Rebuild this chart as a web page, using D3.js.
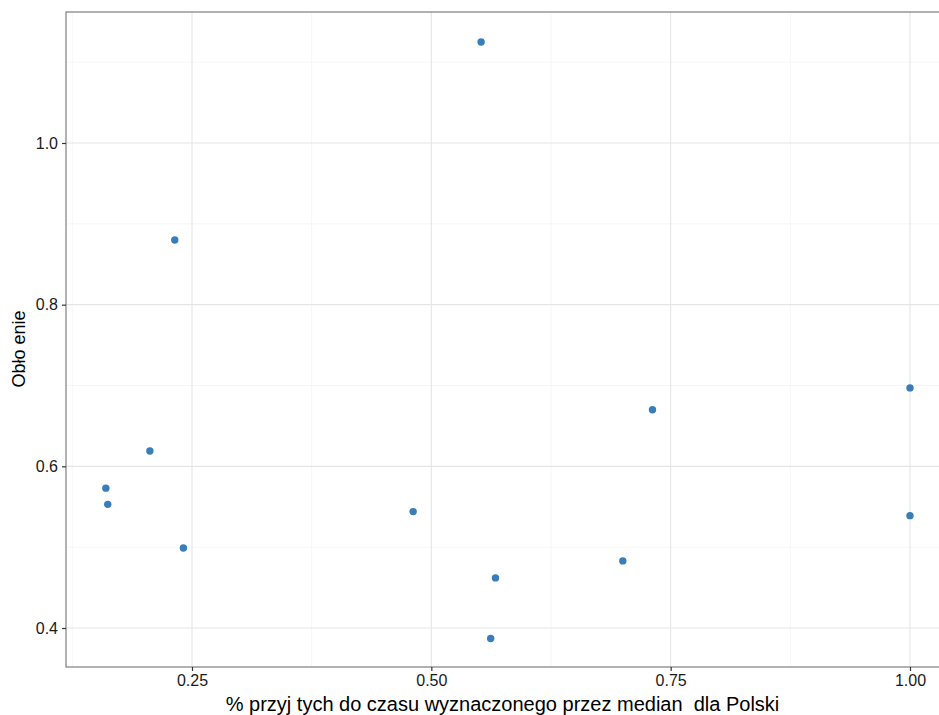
<!DOCTYPE html>
<html><head><meta charset="utf-8">
<script src="https://cdn.jsdelivr.net/npm/d3@7"></script>
<style>body{margin:0;background:#fff;} svg{display:block;} text{white-space:pre;}</style>
</head><body>
<script>
const xValues = [0.232, 0.552, 0.206, 0.160, 0.162, 0.241, 0.481, 0.567, 0.562, 0.700, 0.731, 1.000, 1.000];
const yValues = [0.880, 1.125, 0.619, 0.573, 0.553, 0.499, 0.544, 0.462, 0.387, 0.483, 0.670, 0.697, 0.539];
const xMajorTicks = [0.25, 0.50, 0.75, 1.00];
const xMinorTicks = [0.125, 0.375, 0.625, 0.875];
const yMajorTicks = [0.4, 0.6, 0.8, 1.0];
const yMinorTicks = [0.5, 0.7, 0.9, 1.1];
const xTitle = "% przyj tych do czasu wyznaczonego przez median  dla Polski";
const yTitle = "Obło enie";

const W = 939, H = 715;
const panel = {left: 66, top: 12, right: 945, bottom: 667};
const x = d3.scaleLinear().domain([0.25, 1.0]).range([192, 910]);
const y = d3.scaleLinear().domain([0.4, 1.0]).range([628, 143]);

const svg = d3.select("body").append("svg").attr("width", W).attr("height", H)
  .style("font-family", "'Liberation Sans', Arial, sans-serif");

const g = svg.append("g");
g.selectAll(".xmin").data(xMinorTicks).join("line")
  .attr("x1", d => x(d)).attr("x2", d => x(d)).attr("y1", panel.top).attr("y2", panel.bottom)
  .attr("stroke", "#f4f4f4").attr("stroke-width", 0.8);
g.selectAll(".ymin").data(yMinorTicks).join("line")
  .attr("y1", d => y(d)).attr("y2", d => y(d)).attr("x1", panel.left).attr("x2", panel.right)
  .attr("stroke", "#f4f4f4").attr("stroke-width", 0.8);
g.selectAll(".xmaj").data(xMajorTicks).join("line")
  .attr("x1", d => x(d)).attr("x2", d => x(d)).attr("y1", panel.top).attr("y2", panel.bottom)
  .attr("stroke", "#e5e5e5").attr("stroke-width", 1.1);
g.selectAll(".ymaj").data(yMajorTicks).join("line")
  .attr("y1", d => y(d)).attr("y2", d => y(d)).attr("x1", panel.left).attr("x2", panel.right)
  .attr("stroke", "#e5e5e5").attr("stroke-width", 1.1);

g.selectAll("circle").data(xValues.map((v, i) => [v, yValues[i]])).join("circle")
  .attr("cx", d => x(d[0])).attr("cy", d => y(d[1])).attr("r", 3.7)
  .attr("fill", "#3a7dbb");

svg.append("rect").attr("x", panel.left).attr("y", panel.top)
  .attr("width", panel.right - panel.left).attr("height", panel.bottom - panel.top)
  .attr("fill", "none").attr("stroke", "#7f7f7f").attr("stroke-width", 1.2);

const xAxis = d3.axisBottom(x).tickValues(xMajorTicks).tickFormat(d3.format(".2f")).tickSize(4).tickPadding(4);
const yAxis = d3.axisLeft(y).tickValues(yMajorTicks).tickFormat(d3.format(".1f")).tickSize(4).tickPadding(4);
const xa = svg.append("g").attr("transform", `translate(0,${panel.bottom})`).call(xAxis);
const ya = svg.append("g").attr("transform", `translate(${panel.left},0)`).call(yAxis);
[xa, ya].forEach(a => {
  a.select(".domain").remove();
  a.selectAll(".tick line").attr("stroke", "#333").attr("stroke-width", 1.2);
  a.selectAll(".tick text").attr("fill", "#1a1a1a").style("font-size", "16px")
   .style("font-family", "'Liberation Sans', Arial, sans-serif");
});

svg.append("text").attr("x", (panel.left + 939) / 2).attr("y", 711)
  .attr("text-anchor", "middle").style("font-size", "20px").attr("fill", "#000")
  .text(xTitle);
svg.append("text").attr("transform", `translate(25,349) rotate(-90)`)
  .attr("text-anchor", "middle").style("font-size", "18px").attr("fill", "#000")
  .text(yTitle);
</script>
</body></html>
